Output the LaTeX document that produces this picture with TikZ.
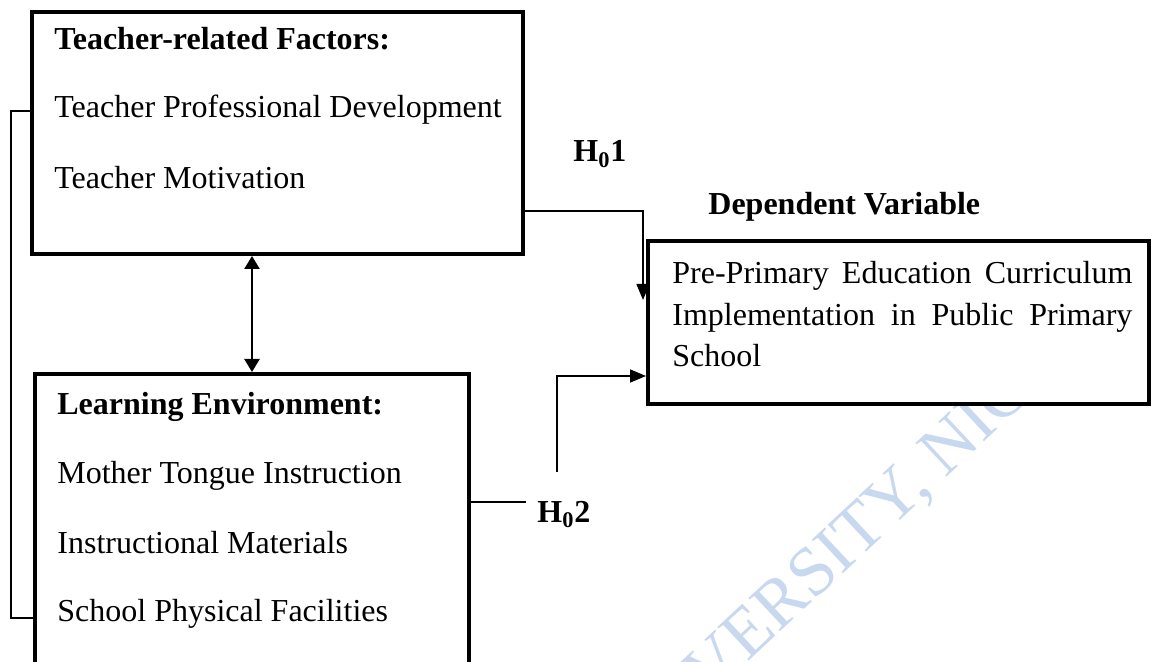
\documentclass[tikz,border=0pt]{standalone}
\usepackage{fontspec}
\setmainfont{Liberation Serif}
\usetikzlibrary{arrows.meta}
\definecolor{wmblue}{RGB}{200,216,238}

\begin{document}
\begin{tikzpicture}[x=0.5pt,y=-0.5pt,
    box/.style={draw, line width=2pt, inner sep=0pt},
    txt/.style={anchor=base west, inner sep=0pt, font=\fontsize{16}{20}\selectfont},
    head/.style={txt, font=\fontsize{16}{20}\selectfont\bfseries},
    conn/.style={line width=0.8pt},
    tip/.style={-{Triangle[length=8pt,width=6.5pt]}}]
  \path[use as bounding box, clip] (0,0) rectangle (1151,662);
  % watermark
  \node[text=wmblue, rotate=43, anchor=base, inner sep=0pt,
    font=\fontsize{35}{35}\selectfont] (wmark) at (888,532) {UNIVERSITY, NIGERIA};
  % boxes
  \node[box, minimum width=245.5pt, minimum height=121pt] (tchr) at (277.5,133) {};
  \node[box, minimum width=217pt, minimum height=163pt] (lenv) at (252,537) {};
  \node[box, fill=white, minimum width=250.5pt, minimum height=81.5pt] (dep) at (898.5,322.5) {};
  % texts
  \node[head] (tchrhead) at (54,50) {Teacher-related Factors:};
  \node[txt] (tpd) at (54,118) {Teacher Professional Development};
  \node[txt] (tmot) at (54,189) {Teacher Motivation};
  \node[head] (lenvhead) at (57,415) {Learning Environment:};
  \node[txt] (mti) at (57,483) {Mother Tongue Instruction};
  \node[txt] (imat) at (57,553) {Instructional Materials};
  \node[txt] (spf) at (57,621) {School Physical Facilities};
  \node[head] (dephead) at (708,215) {Dependent Variable};
  \node[anchor=north west, inner sep=0pt, text width=230pt, align=justify,
    font=\fontsize{16}{20.75}\selectfont] (deptext) at (672,261)
    {\noindent\hyphenpenalty=10000 Pre-Primary Education Curriculum Implementation in Public Primary School};
  \node[head] (hone) at (573,162) {H\textsubscript{0}1};
  \node[head, inner xsep=5.5pt] (htwo) at (526,522) {H\textsubscript{0}2};
  % connectors
  \draw[conn] (tchr.west |- 0,111) -- (11,111) -- (11,618) -- (lenv.west |- 0,618);
  \draw[line width=1.2pt, {Triangle[length=6.5pt,width=7.5pt]}-{Triangle[length=6.5pt,width=7.5pt]}]
    (tchr.south -| lenv.north) -- (lenv.north);
  \coordinate (h1tip) at (643,300);
  \draw[conn, tip] (tchr.east |- 0,211) -| (h1tip);
  \draw[conn] (lenv.east |- 0,502) -- (htwo.west |- 0,502);
  \coordinate (h2foot) at (557,472);
  \draw[conn, tip] (h2foot) |- (dep.west |- 0,376);
\end{tikzpicture}
\end{document}
